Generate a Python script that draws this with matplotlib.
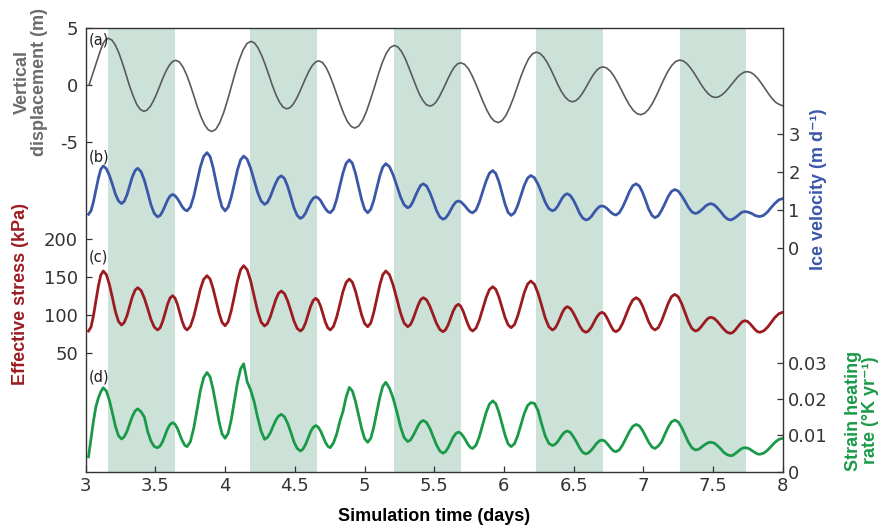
import matplotlib
matplotlib.use('Agg')
import matplotlib.pyplot as plt
import numpy as np

# shaded windows (days)
band_start = [3.16, 4.18, 5.21, 6.23, 7.26]
band_end = [3.64, 4.66, 5.69, 6.71, 7.74]

# (a) vertical displacement (m)
disp_t = [3.024, 3.042, 3.060, 3.081, 3.103, 3.118, 3.131, 3.146,
          3.162, 3.188, 3.213, 3.239, 3.264, 3.290, 3.315, 3.341, 3.366, 3.392,
          3.417, 3.440, 3.463, 3.486, 3.509, 3.532, 3.554, 3.577, 3.600, 3.623,
          3.646, 3.672, 3.698, 3.724, 3.750, 3.776, 3.801, 3.827, 3.853, 3.879,
          3.905, 3.933, 3.961, 3.989, 4.017, 4.045, 4.073, 4.101, 4.129, 4.157,
          4.185, 4.211, 4.236, 4.262, 4.288, 4.314, 4.339, 4.365, 4.391, 4.416,
          4.442, 4.465, 4.488, 4.511, 4.534, 4.557, 4.580, 4.603, 4.626, 4.649,
          4.672, 4.698, 4.724, 4.749, 4.775, 4.801, 4.827, 4.853, 4.878, 4.904,
          4.930, 4.958, 4.987, 5.015, 5.043, 5.072, 5.100, 5.128, 5.156, 5.185,
          5.213, 5.239, 5.264, 5.290, 5.315, 5.341, 5.367, 5.392, 5.418, 5.443,
          5.469, 5.491, 5.513, 5.535, 5.557, 5.580, 5.602, 5.624, 5.646, 5.668,
          5.690, 5.717, 5.744, 5.770, 5.797, 5.824, 5.851, 5.878, 5.904, 5.931,
          5.958, 5.985, 6.013, 6.040, 6.068, 6.095, 6.122, 6.150, 6.177, 6.205,
          6.232, 6.258, 6.284, 6.310, 6.336, 6.362, 6.387, 6.413, 6.439, 6.465,
          6.491, 6.513, 6.535, 6.557, 6.579, 6.601, 6.623, 6.645, 6.667, 6.689,
          6.711, 6.738, 6.765, 6.792, 6.819, 6.846, 6.873, 6.900, 6.927, 6.954,
          6.981, 7.009, 7.037, 7.065, 7.093, 7.121, 7.149, 7.177, 7.205, 7.233,
          7.261, 7.287, 7.312, 7.338, 7.364, 7.390, 7.415, 7.441, 7.467, 7.492,
          7.518, 7.541, 7.563, 7.586, 7.609, 7.632, 7.654, 7.677, 7.700, 7.722,
          7.745, 7.771, 7.796, 7.822, 7.847, 7.873, 7.898, 7.924, 7.949, 7.975, 8.000]
disp_m = [0.00, 0.68, 1.35, 2.17, 2.97, 3.45, 3.79, 4.02,
          4.12, 3.96, 3.51, 2.79, 1.90, 0.90, -0.10, -0.99, -1.71, -2.16,
          -2.32, -2.21, -1.89, -1.39, -0.77, -0.07, 0.63, 1.25, 1.75, 2.07,
          2.18, 2.03, 1.58, 0.89, 0.01, -0.96, -1.93, -2.81, -3.50, -3.95,
          -4.10, -3.91, -3.34, -2.46, -1.35, -0.13, 1.10, 2.21, 3.09, 3.66,
          3.85, 3.70, 3.28, 2.62, 1.79, 0.88, -0.04, -0.87, -1.53, -1.95,
          -2.10, -2.00, -1.70, -1.23, -0.64, 0.02, 0.67, 1.26, 1.73, 2.03,
          2.13, 1.99, 1.56, 0.91, 0.08, -0.84, -1.75, -2.58, -3.23, -3.65,
          -3.80, -3.62, -3.10, -2.30, -1.28, -0.16, 0.97, 1.99, 2.79, 3.31,
          3.49, 3.36, 2.98, 2.39, 1.64, 0.82, -0.01, -0.76, -1.35, -1.73,
          -1.86, -1.77, -1.50, -1.07, -0.54, 0.05, 0.64, 1.17, 1.60, 1.87,
          1.96, 1.83, 1.46, 0.87, 0.14, -0.68, -1.49, -2.22, -2.81, -3.18,
          -3.31, -3.16, -2.72, -2.03, -1.16, -0.21, 0.75, 1.62, 2.31, 2.75,
          2.90, 2.79, 2.48, 2.00, 1.39, 0.71, 0.03, -0.58, -1.06, -1.37,
          -1.48, -1.40, -1.19, -0.85, -0.42, 0.06, 0.54, 0.97, 1.31, 1.52,
          1.60, 1.50, 1.20, 0.73, 0.14, -0.51, -1.16, -1.75, -2.22, -2.52,
          -2.62, -2.50, -2.16, -1.63, -0.96, -0.21, 0.54, 1.21, 1.74, 2.08,
          2.20, 2.12, 1.89, 1.52, 1.06, 0.55, 0.04, -0.42, -0.79, -1.02,
          -1.10, -1.04, -0.88, -0.63, -0.31, 0.04, 0.39, 0.71, 0.96, 1.12,
          1.18, 1.11, 0.90, 0.57, 0.15, -0.31, -0.77, -1.19, -1.52, -1.71, -1.83]

# (b)-(d) are sampled on the same time base
fast_t = [3.020, 3.038, 3.055, 3.073, 3.091, 3.108,
          3.126, 3.148, 3.170, 3.192, 3.213, 3.235,
          3.257, 3.276, 3.296, 3.315, 3.334, 3.354,
          3.373, 3.397, 3.421, 3.445, 3.468, 3.492,
          3.516, 3.534, 3.552, 3.570, 3.587, 3.605,
          3.623, 3.640, 3.658, 3.675, 3.692, 3.710,
          3.727, 3.751, 3.775, 3.799, 3.822, 3.846,
          3.870, 3.892, 3.913, 3.935, 3.957, 3.978,
          4.000, 4.022, 4.044, 4.067, 4.089, 4.111,
          4.133, 4.158, 4.183, 4.208, 4.233, 4.258,
          4.283, 4.303, 4.323, 4.343, 4.363, 4.383,
          4.403, 4.426, 4.449, 4.472, 4.494, 4.517,
          4.540, 4.558, 4.577, 4.595, 4.613, 4.632,
          4.650, 4.667, 4.685, 4.702, 4.719, 4.737,
          4.754, 4.777, 4.800, 4.823, 4.845, 4.868,
          4.891, 4.913, 4.935, 4.957, 4.979, 5.001,
          5.023, 5.045, 5.066, 5.088, 5.110, 5.131,
          5.153, 5.179, 5.205, 5.232, 5.258, 5.284,
          5.310, 5.329, 5.347, 5.366, 5.385, 5.403,
          5.422, 5.446, 5.469, 5.493, 5.516, 5.540,
          5.563, 5.581, 5.600, 5.618, 5.636, 5.655,
          5.673, 5.690, 5.707, 5.725, 5.742, 5.759,
          5.776, 5.800, 5.824, 5.848, 5.872, 5.896,
          5.920, 5.942, 5.964, 5.986, 6.008, 6.030,
          6.052, 6.076, 6.099, 6.123, 6.146, 6.170,
          6.193, 6.219, 6.245, 6.271, 6.296, 6.322,
          6.348, 6.366, 6.384, 6.402, 6.419, 6.437,
          6.455, 6.477, 6.499, 6.522, 6.544, 6.566,
          6.588, 6.607, 6.627, 6.646, 6.665, 6.685,
          6.704, 6.721, 6.737, 6.754, 6.771, 6.787,
          6.804, 6.828, 6.852, 6.877, 6.901, 6.925,
          6.949, 6.972, 6.994, 7.017, 7.039, 7.062,
          7.084, 7.108, 7.131, 7.155, 7.179, 7.202,
          7.226, 7.251, 7.275, 7.300, 7.324, 7.349,
          7.373, 7.392, 7.410, 7.429, 7.448, 7.466,
          7.485, 7.508, 7.531, 7.555, 7.578, 7.601,
          7.624, 7.642, 7.659, 7.677, 7.695, 7.712,
          7.730, 7.748, 7.765, 7.783, 7.801, 7.818,
          7.836, 7.863, 7.891, 7.918, 7.945, 7.973, 8.000]

# (b) ice velocity (m/d)
velocity = [0.88, 0.97, 1.20, 1.52, 1.83, 2.06,
            2.15, 2.08, 1.90, 1.66, 1.41, 1.23,
            1.16, 1.22, 1.39, 1.63, 1.86, 2.03,
            2.09, 2.00, 1.77, 1.45, 1.13, 0.90,
            0.81, 0.85, 0.96, 1.11, 1.25, 1.36,
            1.40, 1.37, 1.29, 1.19, 1.08, 1.00,
            0.97, 1.07, 1.35, 1.74, 2.12, 2.40,
            2.50, 2.40, 2.12, 1.74, 1.35, 1.07,
            0.97, 1.07, 1.33, 1.69, 2.05, 2.31,
            2.41, 2.33, 2.09, 1.78, 1.46, 1.23,
            1.14, 1.19, 1.33, 1.52, 1.70, 1.84,
            1.89, 1.82, 1.61, 1.33, 1.05, 0.85,
            0.77, 0.81, 0.91, 1.06, 1.20, 1.30,
            1.34, 1.31, 1.24, 1.13, 1.03, 0.95,
            0.92, 1.01, 1.27, 1.62, 1.96, 2.22,
            2.31, 2.22, 1.96, 1.62, 1.27, 1.01,
            0.92, 1.01, 1.24, 1.57, 1.89, 2.12,
            2.21, 2.13, 1.92, 1.63, 1.34, 1.13,
            1.05, 1.09, 1.21, 1.37, 1.52, 1.64,
            1.68, 1.62, 1.45, 1.22, 0.98, 0.81,
            0.75, 0.78, 0.87, 0.99, 1.11, 1.20,
            1.23, 1.21, 1.15, 1.08, 1.00, 0.94,
            0.92, 0.99, 1.20, 1.48, 1.75, 1.96,
            2.03, 1.95, 1.74, 1.44, 1.15, 0.93,
            0.85, 0.92, 1.11, 1.38, 1.64, 1.83,
            1.90, 1.84, 1.67, 1.44, 1.20, 1.03,
            0.97, 1.00, 1.08, 1.20, 1.31, 1.39,
            1.42, 1.37, 1.25, 1.08, 0.90, 0.78,
            0.73, 0.75, 0.82, 0.92, 1.01, 1.08,
            1.10, 1.08, 1.04, 0.98, 0.92, 0.88,
            0.86, 0.92, 1.07, 1.27, 1.48, 1.63,
            1.68, 1.62, 1.46, 1.24, 1.01, 0.85,
            0.79, 0.84, 0.98, 1.16, 1.35, 1.48,
            1.53, 1.49, 1.37, 1.22, 1.06, 0.94,
            0.90, 0.92, 0.97, 1.03, 1.10, 1.14,
            1.16, 1.13, 1.05, 0.95, 0.84, 0.76,
            0.73, 0.75, 0.79, 0.84, 0.90, 0.94,
            0.95, 0.94, 0.92, 0.89, 0.85, 0.83,
            0.82, 0.85, 0.94, 1.06, 1.17, 1.26, 1.29]

# (c) effective stress (kPa)
stress = [78.6, 83.9, 98.4, 118.2, 138.0, 152.5,
          157.8, 153.0, 140.0, 122.1, 104.3, 91.3,
          86.5, 89.8, 98.8, 111.2, 123.5, 132.5,
          135.8, 132.1, 121.8, 107.9, 93.9, 83.7,
          80.0, 83.0, 91.3, 102.6, 113.9, 122.2,
          125.2, 122.2, 113.9, 102.6, 91.3, 83.0,
          80.0, 84.8, 97.9, 115.8, 133.7, 146.8,
          151.6, 147.2, 135.1, 118.6, 102.1, 90.0,
          85.6, 90.9, 105.4, 125.2, 145.0, 159.5,
          164.8, 159.5, 144.9, 125.0, 105.1, 90.5,
          85.2, 88.3, 96.8, 108.3, 119.9, 128.3,
          131.4, 127.9, 118.2, 105.0, 91.8, 82.1,
          78.6, 81.5, 89.4, 100.2, 111.0, 118.9,
          121.8, 119.0, 111.3, 100.9, 90.4, 82.8,
          80.0, 84.5, 96.8, 113.6, 130.4, 142.7,
          147.2, 143.0, 131.5, 115.7, 100.0, 88.5,
          84.3, 89.2, 102.7, 121.1, 139.4, 152.9,
          157.8, 152.9, 139.4, 121.1, 102.7, 89.2,
          84.3, 86.9, 93.9, 103.5, 113.0, 120.0,
          122.6, 119.6, 111.4, 100.1, 88.9, 80.7,
          77.7, 80.1, 86.8, 95.8, 104.9, 111.5,
          113.9, 111.5, 105.1, 96.2, 87.4, 81.0,
          78.6, 82.5, 93.2, 107.9, 122.5, 133.2,
          137.1, 133.5, 123.6, 110.0, 96.5, 86.6,
          83.0, 87.1, 98.4, 113.8, 129.2, 140.5,
          144.6, 140.3, 128.4, 112.3, 96.1, 84.3,
          80.0, 82.1, 87.7, 95.4, 103.0, 108.6,
          110.7, 108.4, 102.2, 93.8, 85.3, 79.2,
          76.9, 78.7, 83.5, 90.1, 96.7, 101.5,
          103.3, 101.6, 96.9, 90.5, 84.1, 79.4,
          77.7, 80.7, 88.9, 100.2, 111.4, 119.6,
          122.6, 119.7, 111.9, 101.3, 90.6, 82.9,
          80.0, 83.1, 91.8, 103.5, 115.3, 123.9,
          127.0, 123.8, 114.9, 102.8, 90.7, 81.8,
          78.6, 79.8, 83.1, 87.7, 92.2, 95.5,
          96.7, 95.3, 91.4, 86.1, 80.9, 77.0,
          75.6, 76.7, 79.8, 83.9, 88.1, 91.1,
          92.2, 91.2, 88.4, 84.5, 80.7, 77.9,
          76.9, 78.7, 83.5, 90.1, 96.7, 101.5, 103.3]

# (d) strain heating rate, in 1e-3 K/yr
strain_milli = [4.1, 9.0, 13.8, 17.9, 20.3, 22.0,
                23.1, 22.2, 19.6, 16.1, 12.5, 9.9,
                9.0, 9.6, 11.1, 13.2, 15.2, 16.7,
                17.3, 16.5, 15.0, 11.0, 8.4, 6.9,
                6.6, 7.1, 8.3, 10.1, 11.8, 13.0,
                13.5, 13.1, 11.9, 10.2, 8.6, 7.3,
                6.9, 8.3, 12.0, 17.1, 22.2, 25.9,
                27.3, 26.1, 22.8, 18.3, 13.7, 10.4,
                9.2, 10.6, 14.3, 19.5, 24.6, 28.3,
                29.7, 24.8, 22.5, 19.3, 15.0, 11.2,
                8.9, 9.4, 10.6, 12.4, 14.1, 15.3,
                15.8, 15.1, 13.3, 10.8, 8.2, 6.4,
                5.7, 6.2, 7.5, 9.2, 11.0, 12.2,
                12.7, 12.3, 11.2, 9.7, 8.1, 7.0,
                6.6, 7.9, 10.3, 13.8, 16.5, 20.5,
                23.2, 22.2, 19.4, 15.7, 11.9, 9.1,
                8.1, 9.2, 12.2, 16.4, 20.5, 23.5,
                24.6, 23.0, 20.3, 16.5, 12.4, 9.4,
                8.3, 8.7, 9.8, 11.2, 12.7, 13.7,
                14.1, 13.5, 11.9, 9.6, 7.4, 5.7,
                5.1, 5.5, 6.6, 8.0, 9.5, 10.5,
                10.9, 10.6, 9.8, 8.7, 7.5, 6.7,
                6.4, 7.3, 9.7, 13.0, 16.2, 18.6,
                19.5, 18.7, 16.4, 13.2, 10.1, 7.7,
                6.9, 7.7, 9.9, 13.0, 16.0, 18.2,
                19.0, 18.8, 16.8, 13.1, 9.9, 7.8,
                7.2, 7.5, 8.2, 9.2, 10.2, 10.9,
                11.2, 10.8, 9.6, 8.1, 6.5, 5.3,
                4.9, 5.2, 5.9, 6.8, 7.8, 8.5,
                8.7, 8.5, 7.9, 7.1, 6.3, 5.7,
                5.5, 6.0, 7.4, 9.3, 11.1, 12.5,
                13.0, 12.6, 11.4, 9.7, 8.1, 6.8,
                6.4, 7.1, 8.2, 10.3, 12.3, 13.7,
                14.2, 13.7, 12.2, 10.1, 8.1, 6.6,
                6.0, 6.1, 6.5, 7.1, 7.6, 8.0,
                8.1, 7.9, 7.2, 6.3, 5.3, 4.7,
                4.4, 4.5, 5.0, 5.5, 6.1, 6.5,
                6.6, 6.5, 6.2, 5.7, 5.3, 4.9,
                4.8, 5.1, 5.9, 7.0, 8.1, 8.9, 9.2]

x_ticks = [3, 3.5, 4, 4.5, 5, 5.5, 6, 6.5, 7, 7.5, 8]
x_labels = ['3', '3.5', '4', '4.5', '5', '5.5', '6', '6.5', '7', '7.5', '8']
disp_ticks = [-5, 0, 5]
disp_labels = ['-5', '0', '5']
stress_ticks = [50, 100, 150, 200]
vel_ticks = [0, 1, 2, 3]
strain_ticks = [0, 0.01, 0.02, 0.03]
strain_labels = ['0', '0.01', '0.02', '0.03']

grey = '#5a5a5a'
red = '#9c1b20'
blue = '#3b57a8'
green = '#1a9a48'
band = '#cce2d9'
ink = '#333333'
lab_font = ['Liberation Sans', 'DejaVu Sans']

fig = plt.figure(figsize=(8.81, 5.29), dpi=100)
ax = fig.add_axes([0.0973, 0.1083, 0.7911, 0.8382])
ax_s = ax.twinx()
ax_v = ax.twinx()
ax_h = ax.twinx()

for s, e in zip(band_start, band_end):
    ax.axvspan(s, e, color=band, lw=0, zorder=0)

ax.plot(disp_t, disp_m, color=grey, lw=1.2)
ax_v.plot(fast_t, velocity, color=blue, lw=2)
ax_s.plot(fast_t, stress, color=red, lw=2)
ax_h.plot(fast_t, np.array(strain_milli) * 1e-3, color=green, lw=2)

ax.set_xlim(3, 8)
ax.set_ylim(-34.1, 5.0)
ax_s.set_ylim(-107, 478)
ax_v.set_ylim(-5.89, 5.77)
ax_h.set_ylim(0, 0.122)

ax.set_xticks(x_ticks, x_labels)
ax.set_yticks(disp_ticks, disp_labels)
ax_s.set_yticks(stress_ticks, [str(v) for v in stress_ticks])
ax_v.set_yticks(vel_ticks, [str(v) for v in vel_ticks])
ax_h.set_yticks(strain_ticks, strain_labels)
ax_s.yaxis.tick_left()

tick_kw = dict(direction='in', length=4.5, width=0.9, labelsize=13,
               color=ink, labelcolor=ink)
ax.tick_params(axis='x', pad=4, top=False, **tick_kw)
ax.tick_params(axis='y', pad=5.5, right=False, **tick_kw)
ax_s.tick_params(axis='y', pad=5.5, left=True, right=False,
                 labelleft=True, labelright=False, **tick_kw)
for tw in (ax_v, ax_h):
    tw.tick_params(axis='y', pad=4, **tick_kw)
for tw in (ax_s, ax_v, ax_h):
    tw.tick_params(axis='x', bottom=False, labelbottom=False)
    for sp in tw.spines.values():
        sp.set_visible(False)
for sp in ax.spines.values():
    sp.set_color(ink)
    sp.set_linewidth(1.0)

# axis titles
ax.text(-0.078, 0.878, 'Vertical\ndisplacement (m)', transform=ax.transAxes,
        rotation=90, ha='center', va='center', multialignment='center',
        linespacing=1.0, fontsize=13, fontweight='bold', color='#6b6b6b',
        family=lab_font)
ax.text(-0.094, 0.401, 'Effective stress (kPa)', transform=ax.transAxes,
        rotation=90, ha='center', va='center', fontsize=13,
        fontweight='bold', color=red, family=lab_font)
ax.text(1.051, 0.638, 'Ice velocity (m d\u207b\u00b9)', transform=ax.transAxes,
        rotation=90, ha='center', va='center', fontsize=13,
        fontweight='bold', color=blue, family=lab_font)
ax.text(1.114, 0.138, 'Strain heating\nrate (\u00b0K yr\u207b\u00b9)',
        transform=ax.transAxes, rotation=90, ha='center', va='center',
        multialignment='center', linespacing=1.0, fontsize=13,
        fontweight='bold', color=green, family=lab_font)
ax.text(0.5, -0.1, 'Simulation time (days)', transform=ax.transAxes,
        ha='center', va='center', fontsize=13, fontweight='bold',
        color='black', family=lab_font)

# panel letters
for letter, yy in zip(['(a)', '(b)', '(c)', '(d)'], [0.973, 0.709, 0.484, 0.214]):
    ax.text(0.004, yy, letter, transform=ax.transAxes, ha='left', va='center',
            fontsize=10.5, color='#222222')

fig.savefig('out.png', dpi=100)
